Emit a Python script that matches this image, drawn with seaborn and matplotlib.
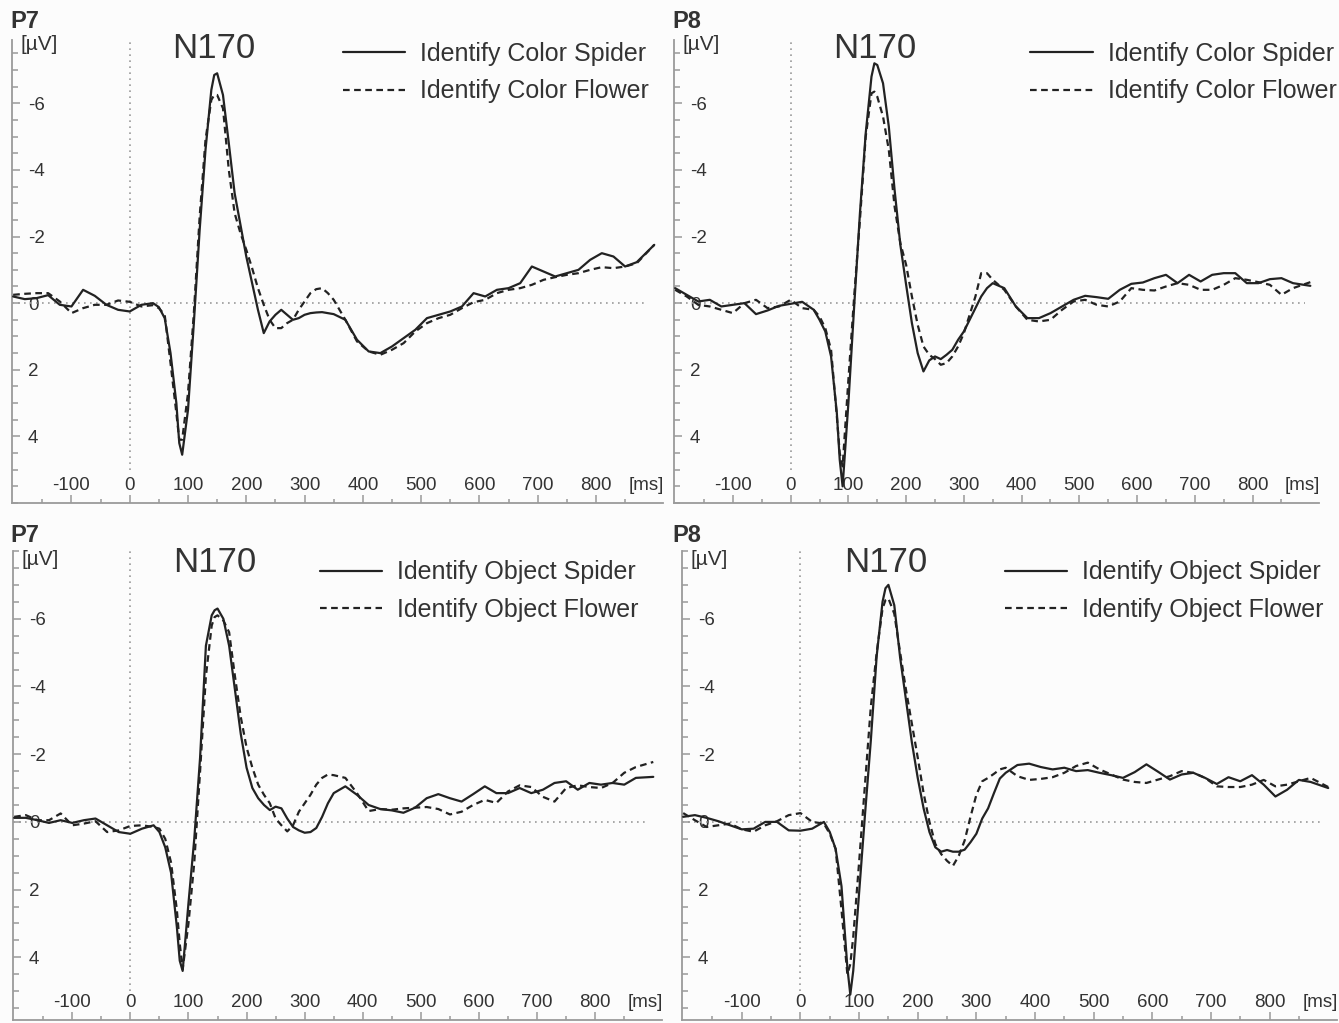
import pandas as pd
import seaborn as sns
from matplotlib import pyplot as plt
from matplotlib.ticker import MultipleLocator, FixedLocator

# sample times (ms) shared by all curves
ms = [-200, -180, -160, -140, -120, -100, -80, -60, -40, -20, 0, 20, 40,
      50, 60, 70, 80, 85, 90, 100, 110, 120, 130, 140, 145, 150, 160, 170, 180, 190, 200,
      210, 220, 230, 240, 250, 260, 270, 280, 290, 300, 310, 320, 330, 340, 350,
      370, 390, 410, 430, 450, 470, 490, 510, 530, 550, 570, 590, 610, 630, 650,
      670, 690, 710, 730, 750, 770, 790, 810, 830, 850, 870, 900]

# amplitudes in microvolts
p7_color_spider = [
    -0.20, -0.12, -0.15, -0.24, 0.05, 0.10, -0.40, -0.22, 0.05, 0.20, 0.25, 0.05, 0.00,
    0.12, 0.45, 1.50, 3.00, 4.20, 4.55, 3.20, 0.60, -2.20, -4.60, -6.40, -6.85, -6.90, -6.25, -4.80, -3.30, -2.35, -1.40,
    -0.60, 0.20, 0.90, 0.55, 0.35, 0.20, 0.35, 0.50, 0.45, 0.35, 0.30, 0.28, 0.27, 0.30, 0.33,
    0.50, 1.10, 1.45, 1.50, 1.30, 1.05, 0.80, 0.45, 0.35, 0.25, 0.10, -0.30, -0.20, -0.40, -0.45,
    -0.60, -1.10, -0.95, -0.80, -0.90, -1.00, -1.30, -1.50, -1.40, -1.10, -1.23, -1.75]
p7_color_flower = [
    -0.25, -0.28, -0.30, -0.30, -0.05, 0.30, 0.15, 0.05, 0.05, -0.08, -0.04, 0.10, 0.06,
    0.15, 0.35, 1.80, 3.30, 4.10, 4.10, 2.70, 0.30, -2.60, -4.90, -6.10, -6.25, -6.25, -5.85, -4.00, -2.70, -2.10, -1.60,
    -1.05, -0.45, 0.05, 0.50, 0.75, 0.75, 0.60, 0.50, 0.20, -0.05, -0.30, -0.42, -0.45, -0.30, -0.10,
    0.50, 1.15, 1.45, 1.55, 1.40, 1.20, 0.85, 0.60, 0.45, 0.35, 0.15, -0.03, -0.10, -0.30, -0.40,
    -0.45, -0.55, -0.70, -0.78, -0.85, -0.90, -1.00, -1.08, -1.05, -1.10, -1.20, -1.75]
p8_color_spider = [
    -0.45, -0.25, -0.05, -0.10, 0.10, 0.05, 0.00, 0.33, 0.22, 0.08, 0.02, -0.04, 0.20,
    0.50, 0.85, 1.60, 3.30, 4.70, 5.50, 3.00, 0.10, -2.70, -5.10, -6.80, -7.20, -7.15, -6.60, -5.30, -3.40, -1.75, -0.55,
    0.60, 1.50, 2.05, 1.72, 1.60, 1.68, 1.55, 1.40, 1.10, 0.85, 0.50, 0.15, -0.20, -0.45, -0.60,
    -0.45, 0.10, 0.45, 0.45, 0.30, 0.10, -0.10, -0.22, -0.18, -0.13, -0.40, -0.58, -0.62, -0.75, -0.85,
    -0.60, -0.85, -0.65, -0.85, -0.90, -0.90, -0.60, -0.60, -0.72, -0.75, -0.60, -0.52]
p8_color_flower = [
    -0.40, -0.20, 0.05, 0.10, 0.20, 0.30, 0.00, -0.10, 0.15, 0.10, -0.10, 0.15, 0.20,
    0.40, 0.75, 1.40, 3.40, 4.50, 4.90, 2.30, -0.20, -2.50, -5.00, -6.30, -6.35, -6.20, -5.60, -4.60, -2.90, -1.80, -1.15,
    -0.20, 0.65, 1.30, 1.55, 1.68, 1.85, 1.80, 1.60, 1.30, 0.90, 0.35, -0.20, -0.90, -0.90, -0.70,
    -0.40, 0.10, 0.50, 0.55, 0.50, 0.20, -0.05, -0.10, 0.05, 0.10, -0.05, -0.45, -0.40, -0.38, -0.50,
    -0.60, -0.55, -0.40, -0.40, -0.55, -0.75, -0.70, -0.63, -0.55, -0.25, -0.45, -0.63]
p7_object_spider = [
    -0.12, -0.12, -0.05, 0.03, -0.05, 0.03, -0.05, -0.10, 0.10, 0.30, 0.35, 0.20, 0.10,
    0.30, 0.75, 1.50, 3.10, 4.10, 4.40, 2.40, 0.50, -1.90, -5.20, -6.10, -6.25, -6.30, -6.00, -5.20, -3.90, -2.60, -1.60,
    -1.00, -0.70, -0.50, -0.35, -0.45, -0.40, -0.10, 0.15, 0.25, 0.32, 0.30, 0.18, -0.15, -0.55, -0.85,
    -1.05, -0.80, -0.50, -0.38, -0.34, -0.27, -0.42, -0.70, -0.82, -0.70, -0.60, -0.82, -1.05, -0.85, -0.85,
    -1.00, -0.85, -0.95, -1.15, -1.20, -0.95, -1.15, -1.10, -1.15, -1.10, -1.30, -1.33]
p7_object_flower = [
    -0.15, -0.20, -0.05, -0.05, -0.25, 0.10, 0.05, -0.02, 0.30, 0.25, 0.12, 0.10, 0.15,
    0.20, 0.50, 1.20, 2.60, 3.60, 4.35, 3.00, 1.20, -1.50, -4.30, -5.80, -6.05, -6.10, -5.95, -5.60, -4.30, -3.10, -2.20,
    -1.60, -1.10, -0.80, -0.55, -0.10, 0.10, 0.28, 0.10, -0.30, -0.55, -0.80, -1.10, -1.30, -1.40, -1.38,
    -1.30, -0.85, -0.32, -0.38, -0.36, -0.40, -0.42, -0.44, -0.38, -0.22, -0.30, -0.50, -0.65, -0.56, -0.90,
    -1.08, -1.03, -0.74, -0.60, -1.00, -1.08, -1.03, -1.00, -1.15, -1.45, -1.62, -1.77]
p8_object_spider = [
    -0.15, -0.20, -0.12, -0.02, 0.10, 0.22, 0.20, 0.00, 0.00, 0.25, 0.26, 0.20, 0.00,
    0.30, 0.80, 1.90, 4.30, 5.10, 4.40, 2.10, -0.20, -2.40, -4.90, -6.50, -6.90, -7.00, -6.40, -4.85, -3.60, -2.35, -1.30,
    -0.40, 0.30, 0.75, 0.88, 0.83, 0.88, 0.88, 0.82, 0.60, 0.35, -0.10, -0.40, -0.85, -1.28, -1.45,
    -1.68, -1.72, -1.62, -1.55, -1.60, -1.50, -1.53, -1.45, -1.38, -1.30, -1.47, -1.70, -1.48, -1.25, -1.40,
    -1.45, -1.30, -1.12, -1.32, -1.20, -1.38, -1.10, -0.75, -0.95, -1.24, -1.18, -1.00]
p8_object_flower = [
    -0.26, -0.05, 0.15, 0.10, 0.05, 0.22, 0.29, 0.10, -0.02, -0.20, -0.26, 0.00, 0.05,
    0.35, 0.80, 2.60, 4.50, 4.20, 3.40, 1.20, -1.10, -3.40, -5.00, -6.30, -6.55, -6.60, -6.15, -5.00, -3.90, -2.90, -1.90,
    -0.85, 0.00, 0.65, 0.95, 1.15, 1.30, 1.00, 0.55, -0.15, -0.80, -1.20, -1.30, -1.42, -1.55, -1.60,
    -1.35, -1.24, -1.27, -1.32, -1.45, -1.65, -1.75, -1.55, -1.40, -1.25, -1.18, -1.15, -1.25, -1.35, -1.50,
    -1.45, -1.30, -1.05, -1.03, -1.03, -1.10, -1.24, -1.05, -1.10, -1.20, -1.30, -1.03]

x_major = [-100, 0, 100, 200, 300, 400, 500, 600, 700, 800]
x_minor = [-150, -50, 50, 150, 250, 350, 450, 550, 650, 750, 850]
y_major = [-6, -4, -2, 0, 2, 4]

sns.set_style('white')
plt.rcParams['font.family'] = ['Liberation Sans', 'DejaVu Sans']
plt.rcParams['axes.unicode_minus'] = False

W, H = 1339, 1023
ink = '#222222'
txt = '#333333'
grey = '#9a9a9a'

fig = plt.figure(figsize=(W / 100, H / 100), dpi=100, facecolor='#fcfcfc')

# electrode, task, spider, flower, box (left, top, width, bottom) px, ylim, legend anchor, label xy px
panels = [
    ('P7', 'Color', p7_color_spider, p7_color_flower, (12, 40, 651, 503), (6.0, -7.9), (0.508, 0.996), (10, 22)),
    ('P8', 'Color', p8_color_spider, p8_color_flower, (674, 40, 645, 503), (6.0, -7.9), (0.552, 0.996), (672, 22)),
    ('P7', 'Object', p7_object_spider, p7_object_flower, (13, 551, 649, 1020), (5.85, -8.0), (0.473, 0.980), (10, 535)),
    ('P8', 'Object', p8_object_spider, p8_object_flower, (682, 551, 655, 1020), (5.85, -8.0), (0.493, 0.980), (672, 535)),
]

for elec, task, spider, flower, box, ylim, leg_xy, lab_xy in panels:
    l, t, w, b = box
    ax = fig.add_axes([l / W, 1 - b / H, w / W, (b - t) / H])
    ax.set_facecolor('none')

    df = pd.DataFrame({'ms': ms, 'spider': spider, 'flower': flower})
    sns.lineplot(data=df, x='ms', y='spider', ax=ax, color=ink, lw=1.6, zorder=3,
                 solid_joinstyle='round', estimator=None, sort=False,
                 label=f'Identify {task} Spider')
    sns.lineplot(data=df, x='ms', y='flower', ax=ax, color=ink, lw=1.6, zorder=3,
                 ls=(0, (3, 2)), dash_joinstyle='round', estimator=None, sort=False,
                 label=f'Identify {task} Flower')

    # zero reference lines
    ax.hlines(0, -202, 890, color=grey, lw=1.2, ls=(0, (1, 2.6)), zorder=1)
    ax.vlines(0, 5.0, ylim[1] - 0.05, color=grey, lw=1.2, ls=(0, (1, 2.6)), zorder=1)

    ax.set_xlim(-202, 915)
    ax.set_ylim(*ylim)
    ax.set(xlabel='', ylabel='')

    ax.set_xticks(x_major)
    ax.xaxis.set_minor_locator(FixedLocator(x_minor))
    ax.set_yticks(y_major)
    ax.yaxis.set_minor_locator(MultipleLocator(0.5))

    ax.tick_params(which='both', direction='in', bottom=True, left=True,
                   color=grey, width=1.1, labelcolor=txt)
    ax.tick_params(axis='x', which='major', length=6, pad=-9.4, labelsize=13.5)
    ax.tick_params(axis='x', which='minor', length=3)
    ax.tick_params(axis='y', which='major', length=6, pad=-11.5, labelsize=13.5)
    ax.tick_params(axis='y', which='minor', length=4.5)
    for lab in ax.get_xticklabels():
        lab.set_va('baseline')
    for lab in ax.get_yticklabels():
        lab.set_ha('left')

    sns.despine(ax=ax)
    for side in ('left', 'bottom'):
        ax.spines[side].set_color(grey)
        ax.spines[side].set_linewidth(1.3)

    ax.text(145, -7.65, 'N170', ha='center', va='center', fontsize=25, color=txt)
    ax.text(-188, -7.75, '[µV]', ha='left', va='center', fontsize=15, color=txt)
    ax.annotate('[ms]', xy=(886, 0), xycoords=('data', 'axes fraction'),
                xytext=(0, 9.4), textcoords='offset points',
                ha='center', va='baseline', fontsize=13.5, color=txt)

    ax.legend(loc='upper left', bbox_to_anchor=leg_xy, frameon=False, fontsize=18,
              borderpad=0, borderaxespad=0, handlelength=2.5, handletextpad=0.6,
              labelspacing=0.54, labelcolor=txt)

    fig.text(lab_xy[0] / W, 1 - lab_xy[1] / H, elec, fontsize=17, fontweight='bold',
             color=txt, ha='left', va='center')

fig.savefig('out.png', dpi=100, facecolor=fig.get_facecolor())
